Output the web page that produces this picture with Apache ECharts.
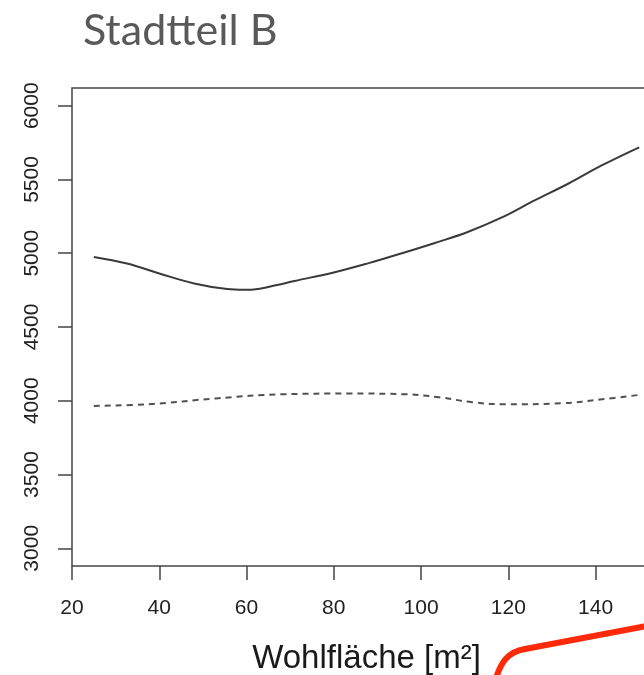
<!DOCTYPE html>
<html>
<head>
<meta charset="utf-8">
<script src="https://cdn.jsdelivr.net/npm/echarts@6/dist/echarts.min.js"></script>
<style>
html,body{margin:0;padding:0;overflow:hidden;background:#fff;}
#c{width:720px;height:675px;}
</style>
</head>
<body>
<div id="c"></div>
<script>
const titleText = "Stadtteil B";
const xName = "Wohlfläche [m²]";
const xTicks = [20, 40, 60, 80, 100, 120, 140];
const yTicks = [3000, 3500, 4000, 4500, 5000, 5500, 6000];
const solidX = [25, 32.6, 40, 48, 55.6, 59.4, 63, 67, 71, 80, 88, 95.4, 103, 110.7, 118.4, 126, 133.7, 141.4, 150];
const solidY = [4975, 4930, 4863, 4795, 4757, 4752, 4760, 4785, 4812, 4870, 4933, 4998, 5068, 5144, 5241, 5358, 5471, 5595, 5718];
const dashedX = [25, 37.7, 53, 68.3, 83.7, 96.4, 104.1, 111.7, 119.4, 132.2, 141.5, 150.1];
const dashedY = [3965, 3977, 4016, 4044, 4049, 4044, 4024, 3990, 3976, 3983, 4010, 4040];

const chart = echarts.init(document.getElementById('c'));
const axisFont = 'Liberation Sans, Arial, sans-serif';
chart.setOption({
  animation: false,
  title: {
    text: titleText, left: 78, top: 5,
    textStyle: {fontFamily: 'Lato', fontSize: 43, fontWeight: 'normal', color: '#595959'}
  },
  grid: {left: 72, top: 88, width: 589, height: 478, outerBoundsMode: 'none', containLabel: false,
    show: true, borderColor: '#444', borderWidth: 1.5, backgroundColor: 'transparent'},
  xAxis: {
    type: 'value', min: 20, max: 155,
    name: xName, nameLocation: 'middle', nameGap: 76,
    nameTextStyle: {fontFamily: axisFont, fontSize: 33, color: '#1a1a1a'},
    axisLine: {show: false},
    splitLine: {show: false},
    axisTick: {show: true, length: 14, customValues: xTicks, lineStyle: {color: '#444', width: 1.5}},
    axisLabel: {customValues: xTicks, margin: 32, fontFamily: axisFont, fontSize: 21, color: '#222',
      formatter: v => String(v)}
  },
  yAxis: {
    type: 'value', min: 2880, max: 6120,
    axisLine: {show: false},
    splitLine: {show: false},
    axisTick: {show: true, length: 14, customValues: yTicks, lineStyle: {color: '#444', width: 1.5}},
    axisLabel: {customValues: yTicks, rotate: 90, margin: 29, fontFamily: axisFont, fontSize: 21, color: '#222',
      formatter: v => String(v)}
  },
  series: [
    {type: 'line', data: solidX.map((x, i) => [x, solidY[i]]), smooth: 0.4, symbol: 'none',
     lineStyle: {color: '#3a3a3a', width: 2}},
    {type: 'line', data: dashedX.map((x, i) => [x, dashedY[i]]), smooth: 0.4, symbol: 'none',
     lineStyle: {color: '#505050', width: 2, type: [6, 5]}}
  ],
  graphic: [
    {
      type: 'bezierCurve',
      shape: {x1: 496, y1: 678, cpx1: 501, cpy1: 663, cpx2: 507, cpy2: 652, x2: 525, y2: 649},
      style: {fill: null, stroke: '#ff2a0a', lineWidth: 6, lineCap: 'round'}
    },
    {
      type: 'line',
      shape: {x1: 525, y1: 649, x2: 652, y2: 625},
      style: {stroke: '#ff2a0a', lineWidth: 6, lineCap: 'round'}
    }
  ]
});
</script>
</body>
</html>
